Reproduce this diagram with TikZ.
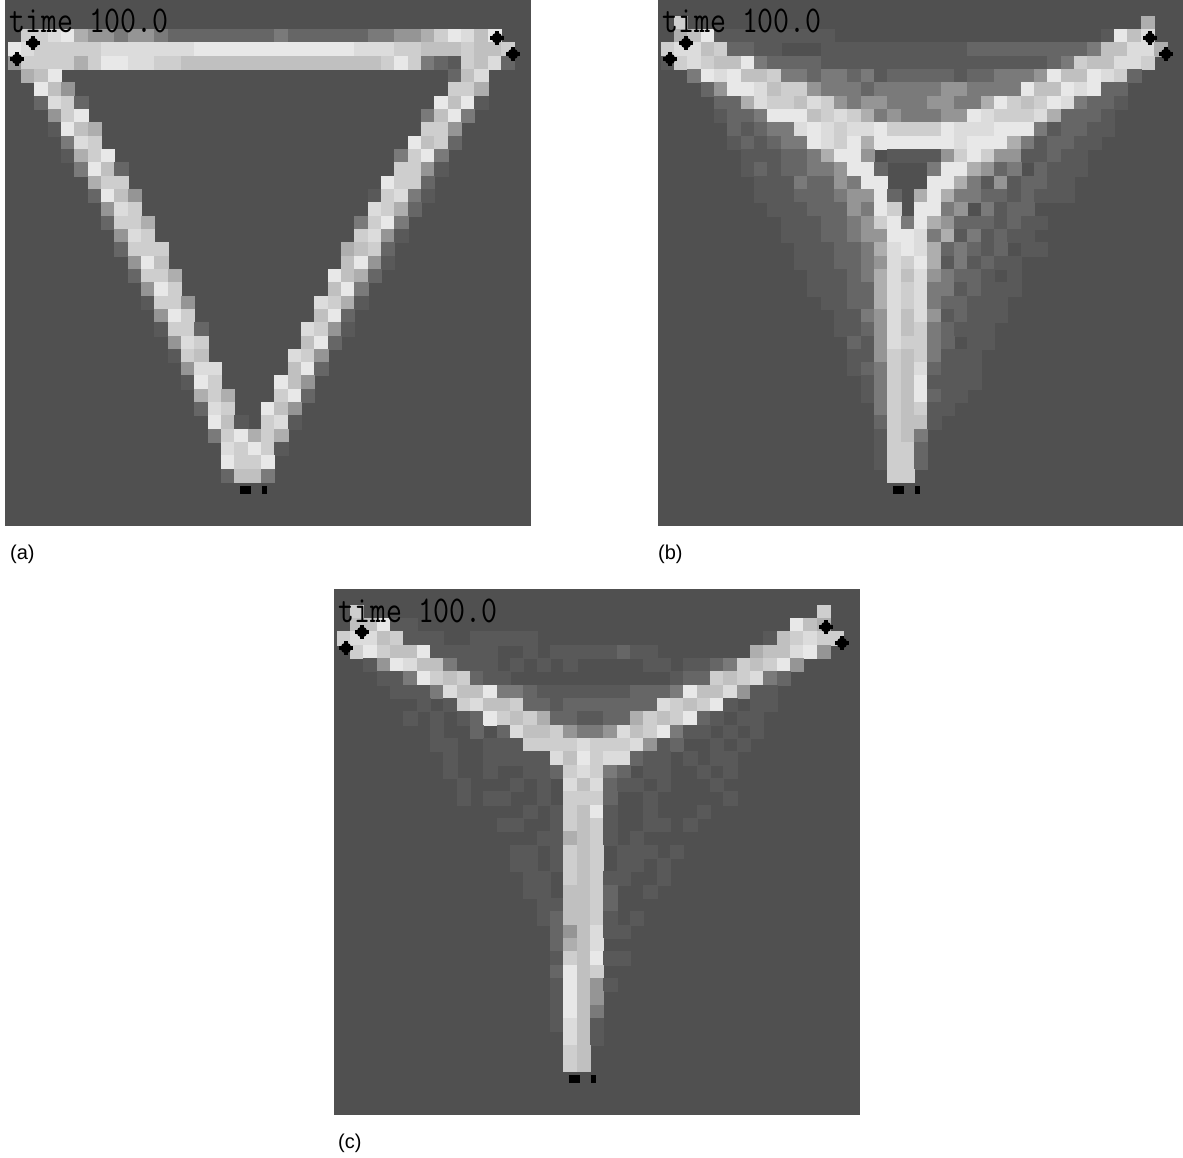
\documentclass[tikz,border=0pt]{standalone}
\usepackage{fontspec}
\setmainfont{Liberation Sans}
\definecolor{pxbg}{RGB}{80,80,80}
\definecolor{px1}{RGB}{89,89,89}
\definecolor{px2}{RGB}{102,102,102}
\definecolor{px3}{RGB}{122,122,122}
\definecolor{px4}{RGB}{149,149,149}
\definecolor{px5}{RGB}{174,174,174}
\definecolor{px6}{RGB}{192,192,192}
\definecolor{px7}{RGB}{206,206,206}
\definecolor{px8}{RGB}{220,220,220}
\definecolor{px9}{RGB}{232,232,232}

% one run of cells, a digit per cell, 0 leaves the background
\newcount\pixcol
\def\pixrun#1{\ifx#1;\else
  \ifx#10\else
    \pgfmathsetmacro\cx{7.7+13.333*\the\pixcol}
    \path[fill=px#1,draw=px#1,line width=.25pt] (\cx,\cy) rectangle +(13.333,13.333);
  \fi
  \advance\pixcol by 1
  \expandafter\pixrun\fi}

% row/first column/cells
\def\rowsa{2/1/778954434432222222232222223344579869,
3/0/98777778888888999999999999888776667667,
4/0/47777579988776666666666666667973217682,
5/1/569,5/33/268,6/2/964,6/33/775,7/2/2872,7/32/9691,8/3/479,8/31/3693,
9/3/1965,9/31/774,10/4/387,10/30/9672,11/4/1579,11/29/3793,12/5/3962,12/29/7741,
13/6/577,13/28/9772,14/6/2964,14/27/17831,15/7/487,15/27/8752,16/7/2775,16/26/3793,
17/8/487,17/26/7841,18/8/2777,18/25/5672,19/9/496,19/25/6941,20/9/2775,20/24/9652,
21/10/497,21/24/693,22/10/1774,22/23/8751,23/11/497,23/23/692,24/11/1772,24/22/8741,
25/12/487,25/22/692,26/12/176,26/21/874,27/13/488,27/21/692,28/13/197,28/20/964,
29/14/575,29/20/792,30/14/287,30/19/964,31/15/961,31/19/781,32/15/379575,33/16/87971,
34/16/9779,35/16/2663}

\def\rowsb{1/1/7,1/36/5,
2/1/569111111111,2/33/1968,
3/0/78867221100011111111111222222222366885,
4/0/1787669322221111111111111111123766887,
5/2/3989667332332312222212233349669872,
6/3/24998677433323333344333396698922,
7/4/2258776874344333443359767983221,
8/4/122399967875343334498777852221,
9/5/21233898788977779888999312211,
10/5/1212339879599999989995312211,
11/6/11122359940111147974411211,
12/6/12122334992000399542302111,
13/7/111322439900099531412211,
14/7/111222344920595332212111,
15/8/11122243970993403122,
16/9/11122347939542221211,
17/9/1112234499835131211,
18/10/11122358985232120 11,
19/10/11122348795131211,
20/11/1112358684322101,
21/11/1112258783312111,
22/12/11225878322111,
23/13/1134868412111,
24/13/112486732111,
25/14/21487732011,
26/14/1147673111,
27/14/1237682111,
28/15/137691111,
29/15/13769211,
30/16/376711,31/16/27661,32/16/1763,33/16/1772,34/16/1772,35/17/77}

\def\rowsc{1/1/7,1/36/7,
2/1/66911,2/34/965,
3/0/788671110011111,3/32/167877,
4/1/79766911111001011111211,4/31/566894,
5/2/149866311101010100000110112376794,
6/3/1139767211000000000000122767832,
7/4/11138669332111111122239668411,
8/6/101786672212222222876791011,
9/5/101012976752211225767921011,
10/7/1002028667433486793110101,
11/7/110011177778777841200101,
12/8/1001111186978821101011,
13/8/1001001127873201100101,
14/9/10001010868211010001,
15/9/101100107772001000001,
16/14/10176910010001,
17/12/110017671001101,
18/15/11567101,
19/13/1101767011101,
20/13/110176701101,
21/14/11076711001,
22/14/1106672001,
23/15/116672,
24/15/12667101,
25/16/246811,
26/16/2568,
27/16/176911,
28/16/2967,
29/16/19641,
30/16/1964,31/16/1963,32/16/1861,33/17/861,34/17/76,35/17/76}

\begin{document}
\begin{tikzpicture}[
    x=1pt, y=-1pt,
    clock/.style={anchor=base west, inner sep=0pt, font=\ttfamily\fontsize{31}{30}\selectfont, yscale=1.22, transform shape},
    caption/.style={anchor=west, inner sep=0pt, font=\fontsize{20}{24}\selectfont}
]
\useasboundingbox (0,0) rectangle (1183,1158);
\fill[white] (0,0) rectangle (1183,1158);

\foreach \px/\py/\rows in {0/0/a, 653/0/b, 329/589/c} {
  \begin{scope}[shift={(\px,\py)}]
    \fill[pxbg] (5,0) rectangle (531,525.5);
    \edef\rowlist{\csname rows\rows\endcsname}
    \foreach \r/\c/\s in \rowlist {
      \pgfmathsetmacro\cy{2.3+13.333*\r}
      \global\pixcol=\c\relax
      \expandafter\pixrun\s;
    }
    \node[clock] at (9,33) {time 100.0};
    % markers
    \foreach \mx/\my in {33/43, 17/59, 497/38, 513/54} {
      \fill (\mx,\my) circle (5.4);
      \fill (\mx-1.8,\my-6.8) rectangle (\mx+1.8,\my+6.8);
      \fill (\mx-6.8,\my-1.8) rectangle (\mx+6.8,\my+1.8);
    }
    \fill (240,486) rectangle (251,493.5);
    \fill (261.5,486) rectangle (267,493.5);
  \end{scope}
}

\node[caption] (capa) at (10,554) {(a)};
\node[caption] (capb) at (658,554) {(b)};
\node[caption] (capc) at (338,1143) {(c)};
\end{tikzpicture}
\end{document}
